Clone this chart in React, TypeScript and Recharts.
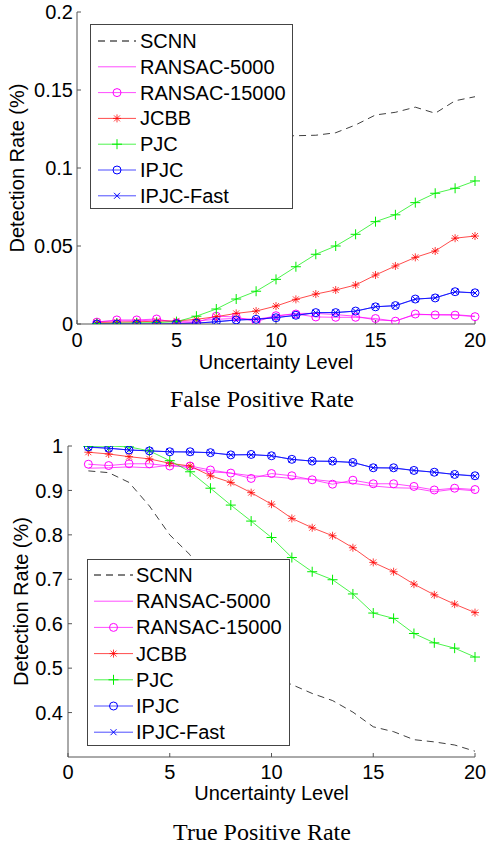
import { LineChart, Line, XAxis, YAxis, Legend } from "recharts";

const LEVELS = [1, 2, 3, 4, 5, 6, 7, 8, 9, 10, 11, 12, 13, 14, 15, 16, 17, 18, 19, 20];
const SERIES = ["SCNN", "RANSAC-5000", "RANSAC-15000", "JCBB", "PJC", "IPJC", "IPJC-Fast"];

// false positive rate
const FP_SCNN = [0.105, 0.108, 0.11, 0.112, 0.114, 0.116, 0.117, 0.118, 0.119, 0.1205, 0.1207, 0.121, 0.1226, 0.1276, 0.134, 0.1357, 0.139, 0.1351, 0.1431, 0.1457];
const FP_RANSAC5000 = [0.0015, 0.002, 0.002, 0.0026, 0.0015, 0.002, 0.003, 0.0036, 0.003, 0.005, 0.0068, 0.0068, 0.006, 0.005, 0.0026, 0.002, 0.006, 0.006, 0.006, 0.005];
const FP_RANSAC15000 = [0.0012, 0.0026, 0.0026, 0.0032, 0.0008, 0.001, 0.005, 0.0045, 0.0015, 0.0053, 0.0064, 0.0045, 0.0043, 0.0043, 0.0035, 0.0018, 0.0064, 0.0058, 0.0057, 0.0047];
const FP_JCBB = [0.001, 0.0012, 0.0014, 0.0018, 0.002, 0.003, 0.0047, 0.0068, 0.0083, 0.0115, 0.0158, 0.0192, 0.0218, 0.025, 0.0314, 0.0372, 0.0427, 0.0468, 0.055, 0.0564];
const FP_PJC = [0.0003, 0.0005, 0.0007, 0.0009, 0.0015, 0.005, 0.0096, 0.016, 0.021, 0.0286, 0.0367, 0.0447, 0.05, 0.0575, 0.0656, 0.07, 0.0778, 0.0838, 0.087, 0.0917];
const FP_IPJC = [0, 0, 0, 0, 0.0002, 0.0005, 0.0015, 0.0026, 0.003, 0.004, 0.0056, 0.0073, 0.0073, 0.0083, 0.011, 0.0118, 0.016, 0.0167, 0.0207, 0.02];
const FP_IPJC_FAST = [0, 0, 0, 0, 0.0002, 0.0006, 0.0014, 0.0025, 0.003, 0.0042, 0.0055, 0.0072, 0.0074, 0.0082, 0.0111, 0.0117, 0.0159, 0.0168, 0.0206, 0.0199];
const FP_TICKS = [0, 0.05, 0.1, 0.15, 0.2];

// true positive rate
const TP_SCNN = [0.944, 0.94, 0.918, 0.865, 0.8, 0.755, 0.66, 0.58, 0.52, 0.48, 0.463, 0.443, 0.427, 0.401, 0.368, 0.357, 0.339, 0.334, 0.327, 0.313];
const TP_RANSAC5000 = [0.95, 0.951, 0.953, 0.951, 0.957, 0.951, 0.942, 0.939, 0.933, 0.931, 0.927, 0.925, 0.92, 0.916, 0.91, 0.906, 0.905, 0.897, 0.903, 0.899];
const TP_RANSAC15000 = [0.959, 0.956, 0.96, 0.96, 0.955, 0.955, 0.946, 0.939, 0.927, 0.938, 0.933, 0.924, 0.914, 0.923, 0.915, 0.915, 0.909, 0.901, 0.905, 0.902];
const TP_JCBB = [0.986, 0.982, 0.976, 0.971, 0.961, 0.955, 0.933, 0.918, 0.895, 0.869, 0.837, 0.816, 0.798, 0.771, 0.738, 0.717, 0.689, 0.665, 0.644, 0.625];
const TP_PJC = [0.999, 1.0, 0.998, 0.989, 0.967, 0.942, 0.905, 0.867, 0.831, 0.794, 0.749, 0.717, 0.699, 0.667, 0.624, 0.612, 0.578, 0.557, 0.545, 0.525];
const TP_IPJC = [0.998, 0.995, 0.991, 0.989, 0.987, 0.987, 0.985, 0.98, 0.981, 0.978, 0.97, 0.966, 0.966, 0.963, 0.951, 0.951, 0.945, 0.941, 0.936, 0.933];
const TP_IPJC_FAST = [0.997, 0.995, 0.991, 0.989, 0.987, 0.986, 0.985, 0.98, 0.98, 0.978, 0.97, 0.966, 0.965, 0.963, 0.951, 0.95, 0.945, 0.941, 0.936, 0.932];
const TP_TICKS = [0.4, 0.5, 0.6, 0.7, 0.8, 0.9, 1];

const FONT = "'Liberation Sans', Arial, sans-serif";

const LOOK: Record<string, { color: string; marker: string; dash?: string }> = {
  SCNN: { color: "#000000", marker: "none", dash: "7 5" },
  "RANSAC-5000": { color: "#ff00ff", marker: "none" },
  "RANSAC-15000": { color: "#ff00ff", marker: "circle" },
  JCBB: { color: "#ff0000", marker: "star" },
  PJC: { color: "#00ee00", marker: "plus" },
  IPJC: { color: "#0000ff", marker: "circle" },
  "IPJC-Fast": { color: "#0000ff", marker: "cross" },
};

function buildRows(cols: number[][]) {
  return LEVELS.map((level, i) => {
    const row: Record<string, number> = { level };
    SERIES.forEach((name, j) => {
      row[name] = cols[j][i];
    });
    return row;
  });
}

const fpRows = buildRows([FP_SCNN, FP_RANSAC5000, FP_RANSAC15000, FP_JCBB, FP_PJC, FP_IPJC, FP_IPJC_FAST]);
const tpRows = buildRows([TP_SCNN, TP_RANSAC5000, TP_RANSAC15000, TP_JCBB, TP_PJC, TP_IPJC, TP_IPJC_FAST]);

function Marker({ kind, x, y, color }: { kind: string; x: number; y: number; color: string }) {
  if (kind === "circle") return <circle cx={x} cy={y} r={4} fill="none" stroke={color} strokeWidth={1} />;
  if (kind === "plus")
    return <path d={`M${x - 5},${y}H${x + 5}M${x},${y - 5}V${y + 5}`} stroke={color} strokeWidth={1} fill="none" />;
  if (kind === "cross")
    return (
      <path d={`M${x - 3},${y - 3}L${x + 3},${y + 3}M${x - 3},${y + 3}L${x + 3},${y - 3}`} stroke={color} strokeWidth={1} fill="none" />
    );
  if (kind === "star")
    return (
      <path
        d={`M${x - 4},${y}H${x + 4}M${x},${y - 4}V${y + 4}M${x - 3},${y - 3}L${x + 3},${y + 3}M${x - 3},${y + 3}L${x + 3},${y - 3}`}
        stroke={color}
        strokeWidth={0.9}
        strokeOpacity={0.85}
        fill="none"
      />
    );
  return null;
}

function LegendBox({ rowTop, step, lineX0, lineX1, textX, height }: any) {
  return (
    <svg width={203} height={height} style={{ display: "block", background: "#fff", border: "1px solid #444", boxSizing: "border-box" }}>
      {SERIES.map((name, i) => {
        const look = LOOK[name];
        const y = rowTop + i * step;
        return (
          <g key={name}>
            <line x1={lineX0} x2={lineX1} y1={y} y2={y} stroke={look.color} strokeOpacity={name === "SCNN" ? 1 : 0.7} strokeDasharray={look.dash} strokeWidth={1} />
            <Marker kind={look.marker} x={(lineX0 + lineX1) / 2} y={y} color={look.color} />
            <text x={textX} y={y + 7} fontSize={20} fill="#000" fontFamily={FONT}>
              {name}
            </text>
          </g>
        );
      })}
    </svg>
  );
}

function RateChart(props: any) {
  const { rows, domain, ticks, yWidth, marginTop, xHeight, xTickMargin, yTickMargin, yLabelX, legend } = props;
  return (
    <LineChart width={486} height={380} data={rows} margin={{ top: marginTop, right: 11, left: 0, bottom: 0 }} style={{ fontFamily: FONT }}>
      <XAxis
        type="number"
        dataKey="level"
        domain={[0, 20]}
        ticks={[0, 5, 10, 15, 20]}
        height={xHeight}
        stroke="#555"
        tickSize={-4}
        tickMargin={xTickMargin}
        tick={{ fontSize: 20, fill: "#000" }}
        label={{ value: "Uncertainty Level", position: "insideBottom", offset: props.xLabelOffset, style: { fontSize: 20, fill: "#000" } }}
      />
      <YAxis
        type="number"
        domain={domain}
        ticks={ticks}
        allowDataOverflow
        width={yWidth}
        stroke="#555"
        tickSize={-4}
        tickMargin={yTickMargin}
        tick={{ fontSize: 20, fill: "#000" }}
        tickFormatter={(v: number) => String(v)}
        label={{ value: "Detection Rate (%)", angle: -90, position: "insideLeft", offset: yLabelX, style: { fontSize: 20, fill: "#000", textAnchor: "middle" } }}
      />
      {SERIES.map((name) => {
        const look = LOOK[name];
        return (
          <Line
            key={name}
            type="linear"
            dataKey={name}
            stroke={look.color}
            strokeOpacity={name === "SCNN" ? 0.75 : 0.7}
            strokeWidth={1}
            strokeDasharray={look.dash}
            isAnimationActive={false}
            activeDot={false}
            dot={
              look.marker === "none"
                ? false
                : (p: any) => (
                    <g key={`${name}-${p.index}`}>
                      <Marker kind={look.marker} x={p.cx} y={p.cy} color={look.color} />
                    </g>
                  )
            }
          />
        );
      })}
      <Legend
        layout="vertical"
        align="center"
        verticalAlign="middle"
        wrapperStyle={{ left: legend.left, top: legend.top, width: 203, height: legend.height, zIndex: 5 }}
        content={() => <LegendBox {...legend} />}
      />
    </LineChart>
  );
}

const captionStyle: any = {
  position: "absolute",
  left: 162,
  width: 200,
  textAlign: "center",
  fontFamily: "'Liberation Serif', 'Times New Roman', serif",
  fontSize: 24,
  lineHeight: "24px",
  color: "#000",
  whiteSpace: "nowrap",
};

export default function App() {
  return (
    <div style={{ position: "absolute", left: 0, top: 0, width: 486, height: 844, background: "#fff" }}>
      <div style={{ position: "absolute", left: 0, top: 0 }}>
        <RateChart
          rows={fpRows}
          domain={[0, 0.2]}
          ticks={FP_TICKS}
          yWidth={77}
          marginTop={12}
          xHeight={56}
          xTickMargin={13}
          yTickMargin={8}
          xLabelOffset={11}
          yLabelX={17}
          legend={{ left: 90, top: 24, height: 185, rowTop: 16, step: 25.8, lineX0: 7, lineX1: 45, textX: 49 }}
        />
      </div>
      <div style={{ ...captionStyle, top: 387 }}>False Positive Rate</div>
      <div style={{ position: "absolute", left: 0, top: 430 }}>
        <RateChart
          rows={tpRows}
          domain={[0.3, 1]}
          ticks={TP_TICKS}
          yWidth={68}
          marginTop={16}
          xHeight={53}
          xTickMargin={12}
          yTickMargin={9}
          xLabelOffset={10}
          yLabelX={21}
          legend={{ left: 87, top: 129, height: 187, rowTop: 15, step: 26.2, lineX0: 6, lineX1: 45, textX: 48 }}
        />
      </div>
      <div style={{ ...captionStyle, top: 820 }}>True Positive Rate</div>
    </div>
  );
}
